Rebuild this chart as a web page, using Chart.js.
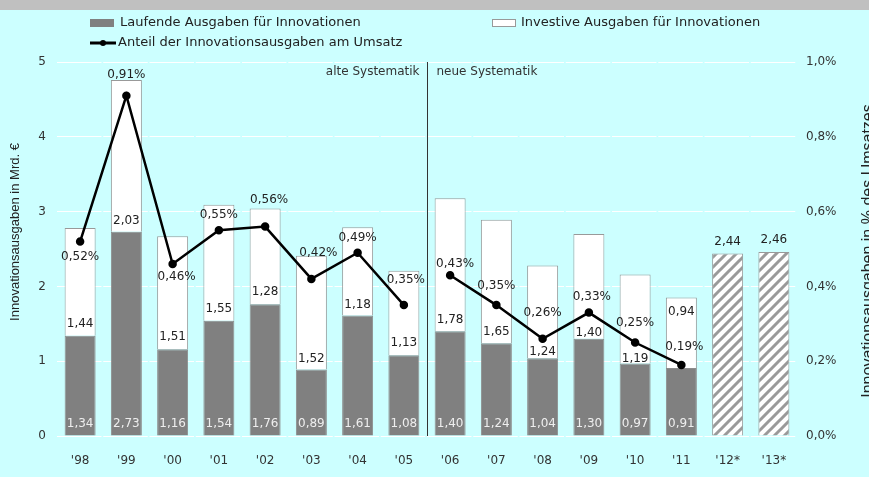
<!DOCTYPE html>
<html>
<head>
<meta charset="utf-8">
<script src="https://cdn.jsdelivr.net/npm/chart.js@4.4.0/dist/chart.umd.min.js"></script>
<style>
  body { margin: 0; background: #ccffff; overflow: hidden; }
  canvas { display: block; }
</style>
</head>
<body>
<canvas id="graph" width="869" height="477"></canvas>
<script>
const years = ["'98", "'99", "'00", "'01", "'02", "'03", "'04", "'05", "'06", "'07", "'08", "'09", "'10", "'11", "'12*", "'13*"];
const laufende = [1.34, 2.73, 1.16, 1.54, 1.76, 0.89, 1.61, 1.08, 1.40, 1.24, 1.04, 1.30, 0.97, 0.91, null, null];
const investive = [1.44, 2.03, 1.51, 1.55, 1.28, 1.52, 1.18, 1.13, 1.78, 1.65, 1.24, 1.40, 1.19, 0.94, null, null];
const geplant = [null, null, null, null, null, null, null, null, null, null, null, null, null, null, 2.44, 2.46];
const anteil = [0.52, 0.91, 0.46, 0.55, 0.56, 0.42, 0.49, 0.35, 0.43, 0.35, 0.26, 0.33, 0.25, 0.19, null, null];
const breakAfter = 7; // last year of the old system

// label nudges (px) so the texts sit like in the original
const pctDx = [0, 0, 4, 0, 4, 7, 0, 2, 5, 0, 0, 3, 0, 3];
const pctDy = [15, -21, 13, -15, -27, -26, -15, -25, -11, -19, -26, -16, -20, -18];
const invDy = [-12, -11, -12, -12, -12, -11, -11, -12, -11, -11, -6, -6, -5, -56];

const canvas = document.querySelector('#graph');
const ctx = canvas.getContext('2d');
const FONT = '"DejaVu Sans", Verdana, sans-serif';
const de = (v, d) => v.toFixed(d).replace('.', ',');

function hatch(){
    const c = document.createElement('canvas');
    c.width = 10; c.height = 10;
    const g = c.getContext('2d');
    g.fillStyle = '#fff';
    g.fillRect(0, 0, 10, 10);
    g.strokeStyle = '#9a9a9a';
    g.lineWidth = 3;
    g.beginPath();
    g.moveTo(-5, 5); g.lineTo(5, -5);
    g.moveTo(0, 10); g.lineTo(10, 0);
    g.moveTo(5, 15); g.lineTo(15, 5);
    g.stroke();
    return ctx.createPattern(c, 'repeat');
}

const backdrop = {
    id: 'backdrop',
    beforeDraw(chart){
        const c = chart.ctx;
        c.save();
        c.fillStyle = '#ccffff';
        c.fillRect(0, 0, chart.width, chart.height);
        c.fillStyle = '#c0c0c0';
        c.fillRect(0, 0, chart.width, 10);
        c.restore();
    }
};

const extras = {
    id: 'extras',
    beforeDatasetsDraw(chart){
        const c = chart.ctx, x = chart.scales.x, a = chart.chartArea;
        const sx = Math.round((x.getPixelForValue(breakAfter) + x.getPixelForValue(breakAfter + 1)) / 2) + 0.5;
        c.save();
        c.strokeStyle = '#333';
        c.lineWidth = 1;
        c.beginPath();
        c.moveTo(sx, a.top);
        c.lineTo(sx, a.bottom);
        c.stroke();
        c.font = '12px ' + FONT;
        c.fillStyle = '#333';
        c.textBaseline = 'middle';
        c.textAlign = 'right';
        c.fillText('alte Systematik', sx - 8, a.top + 10);
        c.textAlign = 'left';
        c.fillText('neue Systematik', sx + 9, a.top + 10);
        c.restore();
    },
    afterDatasetsDraw(chart){
        const c = chart.ctx;
        const mL = chart.getDatasetMeta(0), mG = chart.getDatasetMeta(2);
        c.save();
        c.font = '12px ' + FONT;
        c.textAlign = 'center';
        c.textBaseline = 'middle';
        laufende.forEach((v, i) => {
            if (v == null) return;
            const b = mL.data[i];
            c.fillStyle = '#eeeeee';
            c.fillText(de(v, 2), b.x, b.base - 12);
            c.fillStyle = '#222';
            c.fillText(de(investive[i], 2), b.x, b.y + invDy[i]);
        });
        geplant.forEach((v, i) => {
            if (v == null) return;
            const b = mG.data[i];
            c.fillStyle = '#222';
            c.fillText(de(v, 2), b.x, b.y - 12);
        });
        [3, 4].forEach(ds => {
            const meta = chart.getDatasetMeta(ds);
            meta.data.forEach((p, i) => {
                const v = chart.data.datasets[ds].data[i];
                if (v == null) return;
                c.fillStyle = '#222';
                c.fillText(de(v, 2) + '%', p.x + pctDx[i], p.y + pctDy[i]);
            });
        });
        c.restore();
    },
    afterDraw(chart){
        const c = chart.ctx;
        c.save();
        // legend
        c.font = '13px ' + FONT;
        c.textBaseline = 'middle';
        c.textAlign = 'left';
        c.fillStyle = '#808080';
        c.fillRect(90, 19, 24, 8);
        c.fillStyle = '#222';
        c.fillText('Laufende Ausgaben für Innovationen', 120, 23);
        c.fillStyle = '#fff';
        c.fillRect(492, 19, 24, 8);
        c.strokeStyle = '#999';
        c.strokeRect(492.5, 19.5, 23, 7);
        c.fillStyle = '#222';
        c.fillText('Investive Ausgaben für Innovationen', 521, 23);
        c.strokeStyle = '#000';
        c.lineWidth = 3;
        c.beginPath();
        c.moveTo(90, 43); c.lineTo(116, 43);
        c.stroke();
        c.fillStyle = '#000';
        c.beginPath();
        c.arc(103, 43, 3, 0, Math.PI * 2);
        c.fill();
        c.fillStyle = '#222';
        c.fillText('Anteil der Innovationsausgaben am Umsatz', 118, 43);

        // axis titles, both reading upwards
        c.textAlign = 'center';
        c.font = '13px "Liberation Sans", Arial, sans-serif';
        c.translate(15, 232);
        c.rotate(-Math.PI / 2);
        c.fillText('Innovationsausgaben in Mrd. €', 0, 0);
        c.setTransform(1, 0, 0, 1, 0, 0);
        c.font = '16px "Liberation Sans", Arial, sans-serif';
        c.textBaseline = 'top';
        c.translate(861, 251);
        c.rotate(-Math.PI / 2);
        c.fillText('Innovationsausgaben in % des Umsatzes', 0, 0);
        c.restore();
    }
};

const chart = new Chart(ctx, {
    type: 'bar',
    data: {
        labels: years,
        datasets: [
            {
                label: 'Laufende Ausgaben für Innovationen',
                data: laufende,
                backgroundColor: '#808080',
                borderColor: '#8c8c8c',
                borderWidth: 1,
                stack: 's',
                order: 2
            },
            {
                label: 'Investive Ausgaben für Innovationen',
                data: investive,
                backgroundColor: '#ffffff',
                borderColor: '#999999',
                borderWidth: 1,
                stack: 's',
                order: 2
            },
            {
                label: 'Plan',
                data: geplant,
                backgroundColor: hatch(),
                borderColor: '#999999',
                borderWidth: 1,
                stack: 's',
                order: 2
            },
            {
                type: 'line',
                label: 'Anteil der Innovationsausgaben am Umsatz',
                data: anteil.map((v, i) => i <= breakAfter ? v : null),
                yAxisID: 'y1',
                borderColor: '#000',
                backgroundColor: '#000',
                borderWidth: 2.5,
                pointRadius: 3,
                pointHoverRadius: 3,
                tension: 0,
                order: 1
            },
            {
                type: 'line',
                label: 'Anteil (neue Systematik)',
                data: anteil.map((v, i) => i > breakAfter ? v : null),
                yAxisID: 'y1',
                borderColor: '#000',
                backgroundColor: '#000',
                borderWidth: 2.5,
                pointRadius: 3,
                pointHoverRadius: 3,
                tension: 0,
                order: 1
            }
        ]
    },
    options: {
        responsive: false,
        animation: false,
        devicePixelRatio: 1,
        layout: { padding: { top: 62, left: 0, right: 0, bottom: 0 } },
        plugins: {
            legend: { display: false },
            tooltip: { enabled: false }
        },
        datasets: {
            bar: { categoryPercentage: 1, barPercentage: 0.67 }
        },
        scales: {
            x: {
                stacked: true,
                grid: { display: false },
                border: { display: false },
                ticks: { font: { family: FONT, size: 12 }, color: '#333', padding: 10 },
                afterFit: s => { s.height = 41; }
            },
            y: {
                stacked: true,
                min: 0,
                max: 5,
                ticks: { stepSize: 1, font: { family: FONT, size: 12 }, color: '#333', padding: 11 },
                grid: { color: '#ffffff', lineWidth: 1, drawTicks: false },
                border: { display: false, dash: [44.5, 1.75] },
                afterFit: s => { s.width = 57; }
            },
            y1: {
                position: 'right',
                min: 0,
                max: 1,
                ticks: {
                    stepSize: 0.2,
                    font: { family: FONT, size: 12 },
                    color: '#333',
                    padding: 9,
                    callback: v => de(v, 1) + '%'
                },
                grid: { display: false, drawTicks: false },
                border: { display: false },
                afterFit: s => { s.width = 72; }
            }
        }
    },
    plugins: [backdrop, extras]
});
</script>
</body>
</html>
